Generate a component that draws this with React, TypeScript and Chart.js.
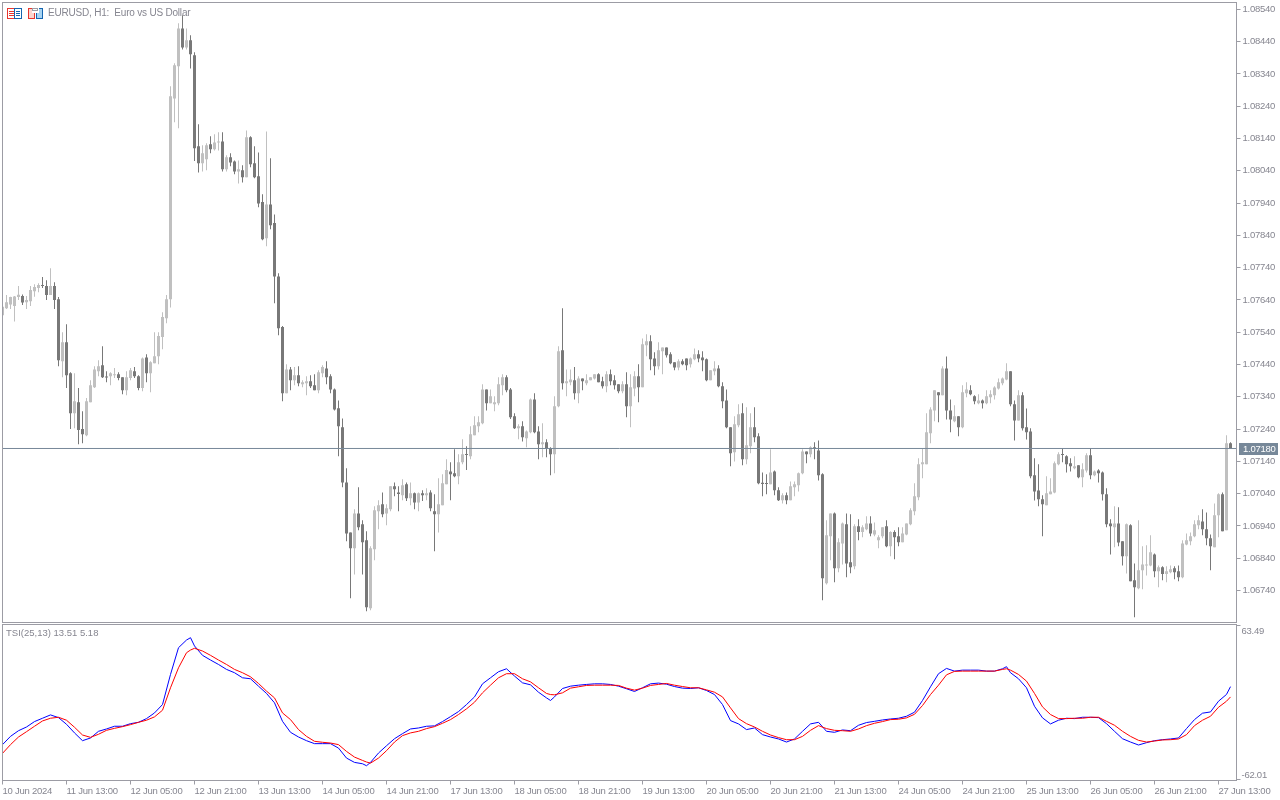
import React, { useEffect, useRef } from "react";
import { Chart, registerables } from "chart.js";

Chart.register(...registerables);

// Prices in points (1 point = 0.00001)
const high = [
107619,107655,107650,107652,107683,107657,107652,107683,107689,107692,
107711,107701,107738,107695,107649,107540,107565,107416,107413,107367,
107295,107336,107391,107435,107453,107497,107419,107416,107429,107416,
107401,107419,107429,107432,107407,107462,107472,107450,107540,107540,
107602,107655,108302,108373,108497,108522,108481,108460,108407,108184,
108119,108125,108147,108153,108159,108159,108088,108094,108072,108072,
108057,108165,108147,108116,108097,107967,108162,108079,107905,107723,
107559,107441,107432,107432,107435,107391,107404,107407,107410,107422,
107438,107450,107410,107366,107329,107273,107119,106920,106992,107060,
106958,106924,106877,107001,107020,107044,107007,107063,107075,107063,
107085,107075,107075,107044,107044,107051,107057,107051,107038,107088,
107100,107147,107137,107178,107162,107209,107187,107249,107280,107280,
107379,107363,107363,107342,107401,107410,107407,107367,107289,107255,
107264,107236,107335,107351,107249,107258,107209,107184,107342,107497,
107614,107425,107425,107432,107404,107397,107410,107401,107410,107413,
107402,107419,107425,107407,107379,107388,107416,107410,107419,107441,
107521,107534,107531,107478,107509,107493,107493,107478,107447,107456,
107456,107459,107462,107490,107484,107481,107459,107422,107450,107438,
107385,107363,107246,107280,107317,107320,107308,107289,107308,107227,
107106,107100,107178,107112,107060,107041,107044,107078,107078,107106,
107178,107171,107187,107199,107205,107103,106958,106979,106982,106902,
106951,106979,106976,106945,106961,106942,106970,106970,106951,106911,
106936,106958,106924,106927,106936,106936,106948,106995,107072,107150,
107181,107289,107308,107360,107354,107435,107465,107332,107314,107280,
107376,107385,107376,107345,107348,107332,107360,107360,107373,107397,
107400,107444,107419,107329,107360,107354,107304,107243,107150,107131,
107035,107094,107088,107140,107168,107179,107159,107150,107156,107128,
107134,107165,107181,107112,107116,107109,107057,106961,107001,106998,
106893,106948,106945,106824,106958,106877,106880,106911,106855,106818,
106815,106815,106818,106815,106818,106896,106917,106920,106958,106973,
106992,106982,106914,107010,107041,107044,107221,107199,
];

const low = [
107593,107612,107612,107573,107640,107624,107612,107621,107650,107664,
107677,107640,107655,107612,107435,107401,107367,107240,107243,107193,
107196,107218,107323,107367,107404,107398,107385,107376,107398,107391,
107348,107345,107391,107398,107360,107357,107385,107354,107444,107441,
107487,107568,107617,108190,108172,108416,108416,108357,108070,108035,
108038,108042,108094,108103,108103,108038,108038,108054,108029,108001,
108004,108020,108051,108017,107927,107825,107806,107859,107630,107531,
107326,107351,107360,107376,107373,107370,107345,107367,107360,107351,
107401,107379,107351,107298,107156,107060,106893,106716,106790,106927,
106790,106676,106679,106834,106930,106967,106942,106986,107032,106986,
107020,107017,107004,106992,106986,107017,107020,106986,106862,106920,
107004,107069,107020,107091,107069,107131,107113,107147,107221,107230,
107255,107298,107320,107295,107314,107345,107354,107271,107240,107209,
107202,107184,107227,107227,107147,107153,107153,107097,107103,107308,
107363,107342,107376,107332,107320,107360,107376,107391,107394,107385,
107366,107354,107376,107363,107351,107351,107277,107246,107342,107323,
107370,107466,107422,107407,107425,107410,107462,107441,107422,107422,
107438,107422,107431,107453,107447,107419,107388,107391,107407,107370,
107305,107243,107125,107140,107246,107128,107131,107165,107199,107069,
107032,107038,107069,107035,107017,107010,107007,107020,107032,107047,
107100,107134,107153,107147,107081,106710,106759,106834,106766,106797,
106821,106781,106794,106806,106896,106905,106927,106908,106908,106871,
106902,106874,106846,106837,106877,106890,106911,106942,106973,107020,
107088,107131,107196,107264,107261,107345,107270,107230,107261,107218,
107243,107339,107345,107317,107317,107304,107317,107320,107332,107363,
107376,107391,107311,107205,107267,107236,107208,107088,107019,107001,
106908,107004,107038,107041,107128,107137,107106,107109,107116,107088,
107060,107106,107085,107094,107075,107019,106936,106852,106874,106877,
106818,106793,106769,106657,106744,106744,106787,106815,106781,106750,
106772,106766,106794,106775,106769,106778,106880,106880,106905,106930,
106911,106880,106803,106874,106905,106924,106927,107181,
];

const open = [
107593,107614,107626,107621,107649,107652,107633,107636,107667,107677,
107686,107683,107655,107683,107642,107450,107509,107413,107289,107323,
107240,107221,107323,107370,107419,107438,107402,107404,107407,107410,
107401,107360,107398,107419,107404,107367,107462,107413,107444,107466,
107525,107583,107642,108264,108364,108481,108422,108444,108398,108116,
108063,108076,108122,108107,108128,108131,108045,108082,108069,108038,
108042,108020,108144,108063,108023,107943,107831,107936,107878,107713,
107556,107351,107425,107391,107407,107379,107382,107388,107376,107360,
107413,107428,107404,107363,107305,107246,107075,106920,106871,106979,
106945,106896,106685,106868,106986,107007,106979,106992,107063,107044,
107035,107069,107026,107041,107013,107041,107035,107044,106986,106976,
107004,107069,107109,107103,107094,107137,107162,107156,107221,107249,
107258,107363,107320,107317,107320,107376,107401,107363,107280,107243,
107249,107212,107230,107332,107233,107193,107199,107181,107162,107311,
107484,107382,107385,107391,107351,107397,107382,107391,107397,107410,
107388,107373,107410,107391,107379,107357,107379,107311,107366,107404,
107370,107500,107512,107459,107435,107481,107493,107472,107447,107431,
107450,107459,107441,107456,107472,107462,107456,107391,107419,107428,
107373,107329,107246,107168,107252,107289,107147,107187,107246,107218,
107074,107072,107069,107109,107051,107020,107035,107020,107060,107066,
107103,107171,107162,107184,107174,107100,106763,106908,106979,106809,
106886,106945,106828,106815,106939,106921,106930,106948,106914,106896,
106908,106939,106877,106921,106908,106890,106914,106945,106986,107029,
107131,107131,107227,107298,107354,107345,107428,107298,107264,107280,
107246,107351,107360,107342,107320,107329,107320,107339,107345,107366,
107382,107394,107419,107317,107267,107345,107246,107233,107097,107050,
107023,107004,107038,107044,107131,107162,107156,107134,107119,107128,
107091,107112,107159,107097,107112,107106,107038,106948,106936,106948,
106893,106846,106942,106772,106747,106803,106818,106818,106852,106800,
106812,106791,106797,106809,106800,106781,106883,106893,106908,106942,
106954,106930,106902,106874,106973,107038,106927,107196,
];

const close = [
107619,107633,107649,107651,107656,107632,107640,107671,107680,107686,
107683,107655,107683,107640,107453,107509,107407,107289,107326,107237,
107224,107326,107376,107425,107435,107401,107400,107413,107410,107398,
107360,107401,107422,107404,107367,107459,107413,107447,107466,107528,
107587,107642,108271,108367,108481,108422,108444,108401,108110,108063,
108094,108119,108107,108128,108131,108045,108082,108066,108038,108045,
108020,108144,108060,108020,107939,107828,107936,107871,107713,107552,
107351,107425,107391,107407,107382,107385,107388,107373,107360,107416,
107432,107401,107363,107301,107249,107075,106917,106871,106979,106936,
106890,106688,106871,106989,107004,106976,106995,107063,107054,107039,
107066,107026,107041,107013,107041,107035,107041,106995,106976,107007,
107072,107113,107100,107094,107137,107162,107160,107224,107252,107261,
107363,107320,107342,107323,107379,107401,107360,107277,107243,107249,
107215,107233,107332,107230,107193,107199,107181,107162,107311,107481,
107382,107388,107394,107351,107397,107388,107391,107401,107410,107385,
107373,107410,107388,107376,107357,107379,107311,107370,107404,107370,
107503,107512,107456,107435,107484,107493,107469,107444,107431,107450,
107441,107438,107459,107472,107459,107453,107391,107422,107428,107373,
107326,107246,107165,107255,107286,107147,107190,107246,107215,107072,
107070,107070,107106,107051,107020,107035,107020,107063,107069,107103,
107171,107162,107184,107181,107097,106778,106911,106979,106809,106890,
106948,106824,106812,106939,106921,106936,106948,106917,106927,106905,
106936,106877,106921,106905,106890,106917,106948,106989,107032,107131,
107137,107230,107301,107360,107345,107428,107298,107270,107280,107246,
107354,107363,107348,107326,107329,107320,107342,107348,107369,107385,
107397,107419,107317,107267,107345,107243,107230,107094,107047,107023,
107007,107041,107047,107134,107162,107160,107131,107125,107125,107091,
107116,107159,107097,107109,107103,107038,106945,106939,106948,106889,
106846,106945,106769,106750,106803,106821,106821,106859,106800,106812,
106791,106800,106806,106797,106781,106886,106896,106908,106945,106958,
106930,106902,106877,106973,107038,106924,107196,107181,
];

const tsiHours = [
0,2,4,6,8,10,12,14,16,18,20,22,24,26,28,30,32,34,36,38,40,42,44,46,47,48,
50,52,54,56,58,60,62,64,66,68,70,72,74,76,78,80,82,84,86,88,90,91,92,94,96,98,
100,102,104,106,108,110,112,114,116,118,120,122,124,126,128,130,132,134,136,137,138,
140,142,144,146,148,150,152,154,156,158,160,162,164,166,168,170,172,174,176,178,
180,182,184,186,188,190,192,194,196,198,200,202,204,206,208,210,212,214,216,218,
220,222,224,226,228,230,232,234,236,238,240,242,244,246,248,250,251,252,254,256,258,
260,262,264,266,268,270,272,274,276,278,280,282,284,286,288,290,292,294,296,298,
300,302,304,306,307,
];

const tsiBlue = [
-33.5,-26.8,-22.2,-19.2,-14.8,-12.1,-9.4,-11.6,-17.0,-24.0,-30.3,-28.1,-22.7,-20.8,-18.6,-18.6,-16.5,-15.4,-12.4,-7.8,-1.0,23.4,45.1,51.3,53.2,46.5,
38.9,35.1,31.5,27.5,24.8,20.7,19.9,13.9,8.0,0.4,-14.6,-23.5,-27.3,-30.3,-32.7,-32.7,-32.7,-36.3,-44.4,-47.9,-49.0,-50.6,-47.9,-40.3,-34.4,-28.7,
-24.6,-20.8,-20.0,-18.6,-18.3,-14.8,-10.8,-6.7,-1.0,5.2,15.8,20.7,25.6,28.0,22.1,16.6,15.0,9.0,4.4,2.3,5.2,
12.0,13.9,14.7,15.3,15.8,15.8,15.3,13.9,11.8,9.6,12.6,15.8,16.4,15.5,13.6,12.3,12.0,12.6,10.4,7.1,
-1.0,-14.0,-16.7,-21.3,-20.0,-25.4,-27.3,-28.9,-31.4,-28.9,-22.7,-16.7,-15.4,-22.7,-23.5,-21.6,-22.2,-17.8,-15.6,-14.6,
-13.5,-12.7,-12.1,-10.5,-7.2,2.3,13.4,24.0,28.3,26.1,26.9,26.9,26.9,26.1,26.1,28.0,29.7,24.8,19.9,12.6,-2.4,
-11.8,-16.7,-13.7,-12.1,-12.4,-11.3,-11.3,-11.6,-16.5,-22.7,-28.7,-31.4,-33.8,-31.9,-30.3,-29.5,-28.9,-28.1,-20.5,-13.2,
-8.0,-7.0,1.7,7.2,13.51,
];

const tsiRed = [
-40.6,-33.5,-27.3,-23.0,-18.6,-14.3,-12.1,-11.3,-13.7,-19.4,-25.7,-27.6,-25.1,-21.9,-20.3,-18.9,-17.3,-15.4,-13.7,-11.0,-5.6,12.6,28.8,41.0,43.2,44.6,
42.4,38.9,35.1,31.5,27.5,24.8,21.5,16.1,9.9,4.4,-7.8,-13.2,-21.3,-26.8,-30.8,-31.6,-32.2,-33.5,-39.0,-43.6,-46.3,-47.6,-48.5,-44.4,-38.4,-31.4,
-26.2,-24.0,-22.7,-20.5,-18.9,-16.2,-13.2,-9.1,-4.5,0.9,8.5,14.7,20.7,24.0,24.0,19.9,17.4,12.6,8.0,7.1,6.9,
8.5,12.3,13.4,14.5,14.7,14.7,14.7,14.5,12.3,10.7,12.3,14.5,15.3,16.1,14.7,13.6,12.6,12.6,10.9,9.0,
5.2,-3.7,-12.4,-16.5,-19.2,-22.7,-25.7,-27.8,-29.5,-29.5,-26.8,-21.9,-18.1,-20.5,-21.9,-22.2,-22.7,-20.8,-18.1,-16.2,
-14.8,-13.2,-12.9,-11.8,-8.9,-1.8,7.1,14.7,23.1,25.9,26.1,26.1,26.1,26.1,26.1,27.5,28.0,26.9,23.4,18.0,8.0,
-2.9,-9.1,-12.4,-12.4,-12.1,-12.1,-11.3,-11.3,-14.6,-17.8,-22.7,-26.8,-30.0,-31.4,-30.6,-29.7,-29.5,-28.9,-25.4,-18.1,
-13.7,-10.5,-3.2,1.7,5.18,
];

const timeLabels = [
  "10 Jun 2024", "11 Jun 13:00", "12 Jun 05:00", "12 Jun 21:00", "13 Jun 13:00",
  "14 Jun 05:00", "14 Jun 21:00", "17 Jun 13:00", "18 Jun 05:00", "18 Jun 21:00",
  "19 Jun 13:00", "20 Jun 05:00", "20 Jun 21:00", "21 Jun 13:00", "24 Jun 05:00",
  "24 Jun 21:00", "25 Jun 13:00", "26 Jun 05:00", "26 Jun 21:00", "27 Jun 13:00",
];
const priceTicks = [
  1.0854, 1.0844, 1.0834, 1.0824, 1.0814, 1.0804, 1.0794, 1.0784, 1.0774, 1.0764,
  1.0754, 1.0744, 1.0734, 1.0724, 1.0714, 1.0704, 1.0694, 1.0684, 1.0674,
];
const tsiTicks = [63.49, -62.01];
const lastPrice = 1.0718;
const titleText = "EURUSD, H1:  Euro vs US Dollar";
const tsiText = "TSI(25,13) 13.51 5.18";

const BULL = "#c0c0c0";
const BEAR = "#787878";
const FRAME = "#9c9ca4";
const TEXT = "#868690";
const SLATE = "#778899";
const FONT = "Liberation Sans";
const WIDTH = 1280;
const PRICE_H = 623;
const TSI_H = 177;
const XMAX = 308.5;

const noPadding = (s: any) => {
  s.paddingTop = 0;
  s.paddingBottom = 0;
  s.paddingLeft = 0;
  s.paddingRight = 0;
};

const tightText = {
  id: "tightText",
  beforeDraw(chart: any) {
    chart.ctx.letterSpacing = "-0.25px";
  },
};

const frame = {
  id: "frame",
  afterDatasetsDraw(chart: any) {
    const { left, right, top, bottom } = chart.chartArea;
    const c = chart.ctx;
    c.save();
    c.strokeStyle = FRAME;
    c.lineWidth = 1;
    c.strokeRect(left, top, right - left, bottom - top);
    c.restore();
  },
};

const icon = (c: any, x: number, pad: boolean) => {
  const R = "#e8352e";
  const B = "#1565b0";
  c.lineWidth = 1;
  if (!pad) {
    c.strokeStyle = R;
    c.strokeRect(x + 0.5, 8.5, 7, 10);
    c.strokeStyle = B;
    c.strokeRect(x + 7.5, 8.5, 7, 10);
    for (const y of [11, 13, 15]) {
      c.fillStyle = R;
      c.fillRect(x + 2, y, 5, 1);
      c.fillStyle = B;
      c.fillRect(x + 9, y, 4, 1);
    }
  } else {
    c.fillStyle = "#fbd5cf";
    c.fillRect(x + 1, 9, 6, 9);
    c.fillStyle = "#a8d4f2";
    c.fillRect(x + 8, 9, 6, 9);
    c.strokeStyle = R;
    c.strokeRect(x + 0.5, 8.5, 6, 10);
    c.strokeStyle = B;
    c.strokeRect(x + 8.5, 8.5, 6, 10);
    c.fillStyle = "#ffffff";
    c.fillRect(x + 4, 8, 7, 5);
    c.strokeStyle = "#9c9ca4";
    c.strokeRect(x + 4.5, 8.5, 5, 2);
  }
};

const priceExtras = {
  id: "priceExtras",
  afterDraw(chart: any) {
    const c = chart.ctx;
    c.save();
    icon(c, 7, false);
    icon(c, 28, true);
    c.letterSpacing = "-0.2px";
    c.font = `10px "${FONT}"`;
    c.fillStyle = TEXT;
    c.textAlign = "left";
    c.textBaseline = "middle";
    c.fillText(titleText, 48, 13.5);
    const y = chart.scales.y.getPixelForValue(lastPrice);
    c.fillStyle = SLATE;
    c.fillRect(1239, Math.floor(y) - 5, 39, 12);
    c.fillStyle = "#ffffff";
    c.letterSpacing = "-0.25px";
    c.font = `9.5px "${FONT}"`;
    c.fillText(lastPrice.toFixed(5), 1243, y + 0.5);
    c.restore();
  },
};

const tsiExtras = {
  id: "tsiExtras",
  beforeDraw(chart: any) {
    const items = chart.scales.y.getLabelItems(chart.chartArea);
    items.forEach((it: any, k: number) => {
      if (it.shifted) return;
      it.shifted = true;
      it.options.translation = [
        it.options.translation[0],
        it.options.translation[1] + (k === 0 ? 6 : -4.5),
      ];
    });
  },
  afterDraw(chart: any) {
    const c = chart.ctx;
    c.save();
    c.letterSpacing = "0px";
    c.font = `9.5px "${FONT}"`;
    c.fillStyle = TEXT;
    c.textAlign = "left";
    c.textBaseline = "middle";
    c.fillText(tsiText, 6, 10.5);
    c.restore();
  },
};

export default function App() {
  const priceRef = useRef<HTMLCanvasElement>(null);
  const tsiRef = useRef<HTMLCanvasElement>(null);

  useEffect(() => {
    const px = (v: number) => v / 100000;
    const colours = close.map((v, i) => (v >= open[i] ? BULL : BEAR));
    const tickFont = { family: FONT, size: 9.5 };

    const price = new Chart(priceRef.current!, {
      type: "bar",
      data: {
        datasets: [
          {
            type: "line",
            data: [
              { x: 0, y: lastPrice },
              { x: XMAX, y: lastPrice },
            ],
            borderColor: SLATE,
            borderWidth: 1,
            pointRadius: 0,
            order: 0,
          },
          {
            data: open.map((v, i) => ({ x: i, y: [px(v), px(close[i])] })),
            backgroundColor: colours,
            barThickness: 3,
            grouped: false,
            inflateAmount: 0,
            minBarLength: 1,
            order: 1,
          },
          {
            data: high.map((v, i) => ({ x: i, y: [px(low[i]), px(v)] })),
            backgroundColor: colours,
            barThickness: 1,
            grouped: false,
            inflateAmount: 0,
            order: 2,
          },
        ] as any,
      },
      options: {
        animation: false,
        responsive: false,
        maintainAspectRatio: false,
        devicePixelRatio: 1,
        layout: { padding: { left: 2.5, top: 2.5, right: 0, bottom: 0.5 } },
        plugins: { legend: { display: false }, tooltip: { enabled: false } },
        scales: {
          x: { type: "linear", min: 0, max: XMAX, display: false, offset: false },
          y: {
            type: "linear",
            position: "right",
            min: 1.066411,
            max: 1.085612,
            afterFit: (s: any) => {
              s.width = 43.5;
              noPadding(s);
            },
            afterBuildTicks: (s: any) => {
              s.ticks = priceTicks.map((value) => ({ value }));
            },
            grid: { drawOnChartArea: false, color: FRAME, tickLength: 4, tickColor: FRAME },
            border: { color: FRAME },
            ticks: {
              autoSkip: false,
              color: TEXT,
              font: tickFont,
              padding: 2,
              callback: (v: any) => Number(v).toFixed(5),
            },
          },
        },
      } as any,
      plugins: [tightText, frame, priceExtras],
    });

    const tsi = new Chart(tsiRef.current!, {
      type: "line",
      data: {
        datasets: [
          {
            data: tsiHours.map((x, i) => ({ x, y: tsiRed[i] })),
            borderColor: "#ff0000",
            borderWidth: 1,
            pointRadius: 0,
            order: 0,
          },
          {
            data: tsiHours.map((x, i) => ({ x, y: tsiBlue[i] })),
            borderColor: "#0000ff",
            borderWidth: 1,
            pointRadius: 0,
            order: 1,
          },
        ],
      },
      options: {
        animation: false,
        responsive: false,
        maintainAspectRatio: false,
        devicePixelRatio: 1,
        layout: { padding: { left: 2.5, top: 1.5, right: 0, bottom: 0 } },
        plugins: { legend: { display: false }, tooltip: { enabled: false } },
        scales: {
          x: {
            type: "linear",
            min: 0,
            max: XMAX,
            afterFit: (s: any) => {
              s.height = 19.5;
              noPadding(s);
            },
            afterBuildTicks: (s: any) => {
              s.ticks = timeLabels.map((_, k) => ({ value: k * 16 }));
            },
            grid: { drawOnChartArea: false, color: FRAME, tickLength: 4, tickColor: FRAME },
            border: { color: FRAME },
            ticks: {
              autoSkip: false,
              maxRotation: 0,
              align: "start",
              color: TEXT,
              font: tickFont,
              padding: 1,
              callback: (v: any) => timeLabels[Math.round(Number(v) / 16)],
            },
          },
          y: {
            type: "linear",
            position: "right",
            min: -62.58,
            max: 63.9,
            afterFit: (s: any) => {
              s.width = 43.5;
              noPadding(s);
            },
            afterBuildTicks: (s: any) => {
              s.ticks = tsiTicks.map((value) => ({ value }));
            },
            grid: { drawOnChartArea: false, color: FRAME, tickLength: 4, tickColor: FRAME },
            border: { color: FRAME },
            ticks: {
              autoSkip: false,
              color: TEXT,
              font: tickFont,
              padding: 1,
              callback: (v: any) => Number(v).toFixed(2),
            },
          },
        },
      } as any,
      plugins: [tightText, frame, tsiExtras],
    });

    return () => {
      price.destroy();
      tsi.destroy();
    };
  }, []);

  return (
    <div style={{ position: "fixed", left: 0, top: 0, width: WIDTH, height: 800, background: "#fff", overflow: "hidden" }}>
      <canvas ref={priceRef} width={WIDTH} height={PRICE_H} style={{ position: "absolute", left: 0, top: 0, display: "block" }} />
      <canvas ref={tsiRef} width={WIDTH} height={TSI_H} style={{ position: "absolute", left: 0, top: PRICE_H, display: "block" }} />
    </div>
  );
}
